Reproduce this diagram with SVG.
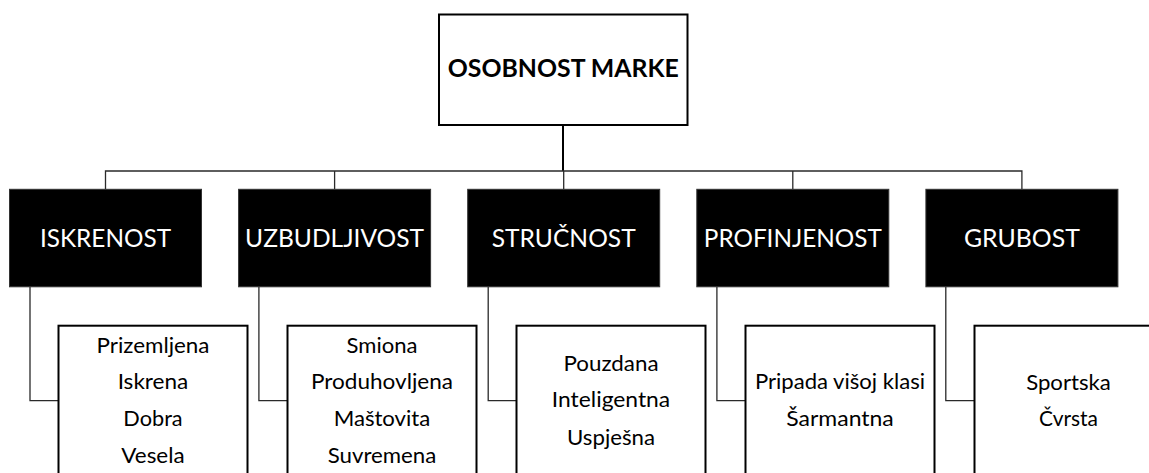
<svg xmlns="http://www.w3.org/2000/svg" width="1149" height="473" viewBox="0 0 1149 473">
<style>
.bg{fill:#ffffff}
.top{fill:#ffffff;stroke:#000;stroke-width:2}
.cat{fill:#000;stroke:#333;stroke-width:1}
.sub{fill:#ffffff;stroke:#000;stroke-width:2}
.ln{fill:none;stroke:#2a2a2a;stroke-width:1.3}
.lnb{fill:none;stroke:#000;stroke-width:2}
.t{font-family:Lato,"Open Sans","Liberation Sans",sans-serif;text-anchor:middle}
.title{font-size:24px;font-weight:bold;fill:#000}
.ct{font-size:25.5px;fill:#fff}
.st{font-size:21px;fill:#000}
</style>
<rect class="bg" x="0" y="0" width="1149" height="473"/>
<g id="connectors">
<path class="lnb" d="M563 125 V171"/>
<path class="ln" d="M105.5 189 V171 H1021.9 V189"/>
<path class="ln" d="M334.6 171 V189"/>
<path class="ln" d="M563.7 171 V189"/>
<path class="ln" d="M792.8 171 V189"/>
<path class="ln" d="M30 287 V400.7 H58.5"/>
<path class="ln" d="M258.9 287 V400.7 H287.5"/>
<path class="ln" d="M488.2 287 V400.7 H516.5"/>
<path class="ln" d="M716.9 287 V400.7 H745.5"/>
<path class="ln" d="M945.8 287 V400.7 H974.5"/>
</g>
<g id="root">
<rect class="top" x="439" y="14.5" width="248.5" height="110.5"/>
<text class="t title" x="563.3" y="77.3" textLength="231" lengthAdjust="spacingAndGlyphs">OSOBNOST MARKE</text>
</g>
<g id="iskrenost">
<rect class="cat" x="9.5" y="189.3" width="192" height="97.5"/>
<text class="t ct" x="105.5" y="247.3" textLength="131" lengthAdjust="spacingAndGlyphs">ISKRENOST</text>
</g>
<g id="uzbudljivost">
<rect class="cat" x="238.6" y="189.3" width="192" height="97.5"/>
<text class="t ct" x="334.6" y="247.3" textLength="179" lengthAdjust="spacingAndGlyphs">UZBUDLJIVOST</text>
</g>
<g id="strucnost">
<rect class="cat" x="467.7" y="189.3" width="192" height="97.5"/>
<text class="t ct" x="563.7" y="247.3" textLength="144" lengthAdjust="spacingAndGlyphs">STRUČNOST</text>
</g>
<g id="profinjenost">
<rect class="cat" x="696.8" y="189.3" width="192" height="97.5"/>
<text class="t ct" x="792.8" y="247.3" textLength="178" lengthAdjust="spacingAndGlyphs">PROFINJENOST</text>
</g>
<g id="grubost">
<rect class="cat" x="925.9" y="189.3" width="192" height="97.5"/>
<text class="t ct" x="1021.9" y="247.3" textLength="116" lengthAdjust="spacingAndGlyphs">GRUBOST</text>
</g>
<g id="iskrenost-traits">
<rect class="sub" x="58.5" y="325.7" width="189" height="160"/>
<text class="t st" x="153" y="353" textLength="113" lengthAdjust="spacingAndGlyphs">Prizemljena</text>
<text class="t st" x="153" y="389" textLength="70.7" lengthAdjust="spacingAndGlyphs">Iskrena</text>
<text class="t st" x="153" y="426.3" textLength="59.3" lengthAdjust="spacingAndGlyphs">Dobra</text>
<text class="t st" x="153" y="463" textLength="63.3" lengthAdjust="spacingAndGlyphs">Vesela</text>
</g>
<g id="uzbudljivost-traits">
<rect class="sub" x="287.5" y="325.7" width="189" height="160"/>
<text class="t st" x="382" y="352.5" textLength="71" lengthAdjust="spacingAndGlyphs">Smiona</text>
<text class="t st" x="382" y="389" textLength="142" lengthAdjust="spacingAndGlyphs">Produhovljena</text>
<text class="t st" x="382" y="426.3" textLength="96.7" lengthAdjust="spacingAndGlyphs">Maštovita</text>
<text class="t st" x="382" y="463" textLength="108.7" lengthAdjust="spacingAndGlyphs">Suvremena</text>
</g>
<g id="strucnost-traits">
<rect class="sub" x="516.5" y="325.7" width="189" height="160"/>
<text class="t st" x="611" y="370.7" textLength="95" lengthAdjust="spacingAndGlyphs">Pouzdana</text>
<text class="t st" x="611" y="407.3" textLength="118.3" lengthAdjust="spacingAndGlyphs">Inteligentna</text>
<text class="t st" x="611" y="444.7" textLength="88" lengthAdjust="spacingAndGlyphs">Uspješna</text>
</g>
<g id="profinjenost-traits">
<rect class="sub" x="745.5" y="325.7" width="189" height="160"/>
<text class="t st" x="840" y="389" textLength="170" lengthAdjust="spacingAndGlyphs">Pripada višoj klasi</text>
<text class="t st" x="840" y="426" textLength="107.5" lengthAdjust="spacingAndGlyphs">Šarmantna</text>
</g>
<g id="grubost-traits">
<rect class="sub" x="974.5" y="325.7" width="189" height="160"/>
<text class="t st" x="1068.5" y="389.5" textLength="84.7" lengthAdjust="spacingAndGlyphs">Sportska</text>
<text class="t st" x="1068.5" y="425.7" textLength="59" lengthAdjust="spacingAndGlyphs">Čvrsta</text>
</g>
</svg>
